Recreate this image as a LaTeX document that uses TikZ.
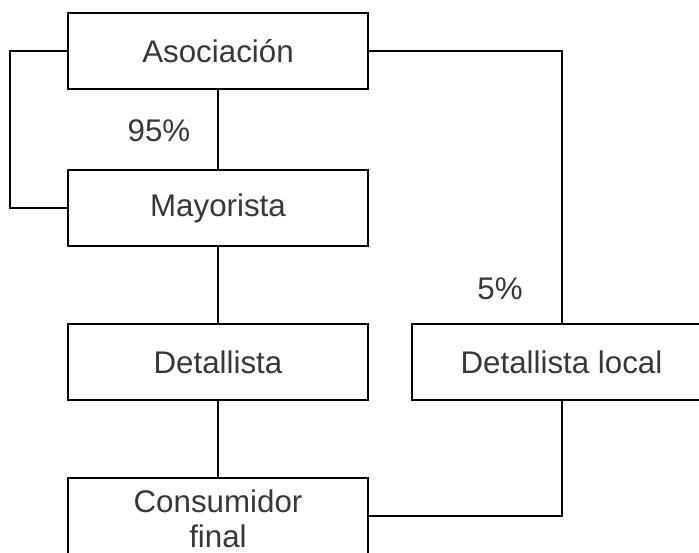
\documentclass[tikz,border=0pt]{standalone}
\usepackage{fontspec}
\setmainfont{Liberation Sans}
\begin{document}
\begin{tikzpicture}[x=1pt,y=-1pt,
  boxnode/.style={draw=black,line width=2pt,minimum width=300pt,minimum height=76pt,inner sep=0pt,text=black!78,font=\fontsize{31.3}{35}\selectfont,align=center},
  conn/.style={draw=black,line width=2pt},
  lbl/.style={text=black!78,font=\fontsize{31.3}{35}\selectfont,inner sep=0pt}]
\useasboundingbox (0,0) rectangle (699,552);
\clip (0,0) rectangle (699,552);
\node[boxnode] (aso) at (218,51) {Asociación};
\node[boxnode] (may) at (218,208) {Mayorista};
\node[boxnode] (det) at (218,362) {Detallista};
\node[boxnode] (detloc) at (561.5,362) {Detallista local};
\node[boxnode] (cons) at (218,516) {};
\node[lbl,align=center] (constext) at (218,519) {Consumidor\\final};
\node[lbl] (p95) at (159,131) {95\%};
\node[lbl] (p5) at (500,289) {5\%};
\draw[conn] (aso.west) -- ++(-57,0) |- (may.west);
\draw[conn] (aso.south) -- (may.north);
\draw[conn] (may.south) -- (det.north);
\draw[conn] (det.south) -- (cons.north);
\draw[conn] (aso.east) -| (detloc.north);
\draw[conn] (detloc.south) |- (cons.east);
\end{tikzpicture}
\end{document}
